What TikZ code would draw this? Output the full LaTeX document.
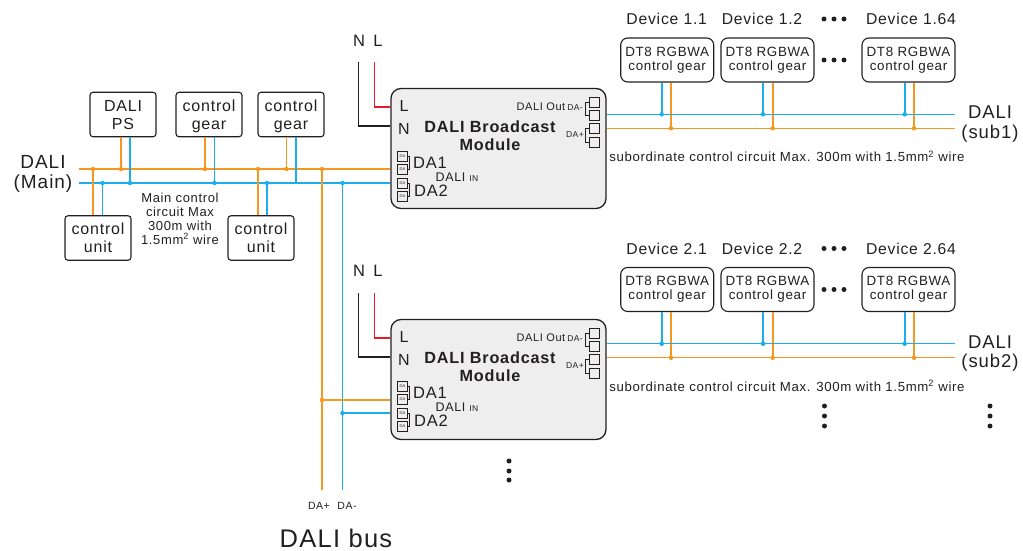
\documentclass[tikz,border=0pt]{standalone}
\usepackage{fontspec}
\setmainfont[LetterSpace=5]{Liberation Sans}
\usepackage{xcolor}
\definecolor{wireBlue}{RGB}{26, 174, 236}
\definecolor{wireOrange}{RGB}{243, 152, 33}
\definecolor{wireRed}{RGB}{232, 25, 44}
\definecolor{inkColor}{RGB}{35, 31, 32}
\definecolor{moduleColor}{RGB}{238, 238, 238}
\newcommand{\fsz}[1]{\fontsize{#1}{#1}\selectfont}

\begin{document}
\begin{tikzpicture}[x=1pt, y=-1pt, every node/.style={text=inkColor},
    box/.style={rectangle, draw=inkColor, line width=1.1pt, rounded corners=3pt, fill=white, inner sep=0pt},
    mainbox/.style={box, minimum width=66pt, minimum height=44.5pt, align=center, font=\fsz{16}, text depth=0pt},
    gearbox/.style={box, rounded corners=7pt, minimum width=93pt, minimum height=44pt},
    modulebox/.style={rectangle, draw=inkColor, line width=1.3pt, rounded corners=10pt, fill=moduleColor, minimum width=215pt, minimum height=120pt, inner sep=0pt},
    termbox/.style={rectangle, draw=inkColor, line width=0.7pt, minimum width=10pt, minimum height=10pt, inner sep=0pt, font=\fsz{4}, fill=moduleColor},
    bluewire/.style={wireBlue, line width=1.7pt},
    orangewire/.style={wireOrange, line width=1.7pt},
    bluedot/.style={circle, fill=wireBlue, minimum size=4.5pt, inner sep=0pt},
    orangedot/.style={circle, fill=wireOrange, minimum size=4.5pt, inner sep=0pt},
    blackdot/.style={circle, fill=inkColor, minimum size=5pt, inner sep=0pt}]
    \useasboundingbox (0,0) rectangle (1023,551);

    % Main bus
    \coordinate (mainOrange) at (79,169);
    \coordinate (mainBlue) at (79,183);
    \node[mainbox] (ps) at (123,114.5) {DALI\\[2pt]PS};
    \node[mainbox] (gearA) at (209,114.5) {control\\[2pt]gear};
    \node[mainbox] (gearB) at (291,114.5) {control\\[2pt]gear};
    \node[mainbox] (unitA) at (98,238) {control\\[2pt]unit};
    \node[mainbox] (unitB) at (261,238) {control\\[2pt]unit};

    \node[orangedot] (oUnitA) at (93,169) {};
    \node[orangedot] (oPs) at (121,169) {};
    \node[orangedot] (oGearA) at (205,169) {};
    \node[orangedot] (oUnitB) at (258,169) {};
    \node[orangedot] (oGearB) at (286.5,169) {};
    \node[orangedot] (oBus) at (322,169) {};
    \node[bluedot] (bUnitA) at (102.5,183) {};
    \node[bluedot] (bPs) at (130,183) {};
    \node[bluedot] (bGearA) at (214.5,183) {};
    \node[bluedot] (bUnitB) at (267,183) {};
    \coordinate (bGearB) at (296,183);
    \node[bluedot] (bBus) at (342.5,183) {};
    \coordinate (busOrangeEnd) at (322,490);
    \coordinate (busBlueEnd) at (342.5,490);

    \foreach \n/\dy/\my in {1/0/0, 2/229.5/231} {
        % Sub circuit
        \node[modulebox] (mod\n) at (498.5,148.5+\my) {};
        \node[font=\fsz{16.5}] (nL\n) at (359,41+\my-\n+1) {N};
        \node[font=\fsz{16.5}] (lL\n) at (378,41+\my-\n+1) {L};
        \coordinate (nTop\n) at (358.5,62+\my);
        \coordinate (lTop\n) at (374.5,62+\my);
        \draw[inkColor, line width=1.3pt] (nTop\n) |- (mod\n.west |- 0,126+\my);
        \draw[wireRed, line width=1.3pt] (lTop\n) |- (mod\n.west |- 0,107+\my);

        \node[font=\fsz{16}] (tL\n) at (404,106+\my) {L};
        \node[font=\fsz{16}] (tN\n) at (404,129+\my) {N};
        \node[font=\bfseries\fsz{16.2}, align=center] (title\n) at (490,135.5+\my) {DALI Broadcast\\[2pt]Module};
        \node[font=\fsz{16.5}] (tDaA\n) at (430,163+\my-\n+1) {DA1};
        \node[font=\fsz{16.5}] (tDaB\n) at (431,190.5+\my-\n+1) {DA2};
        \node[font=\fsz{12.5}] (tIn\n) at (457,177+\my-\n+1) {DALI {\fsz{8.5}IN}};
        \node[font=\fsz{11}] (tOut\n) at (541,107+\my) {DALI Out};
        \node[font=\fsz{8.5}] (tMinus\n) at (575,108+\my) {DA-};
        \node[font=\fsz{8.5}] (tPlus\n) at (575,135+\my) {DA+};

        % Terminals
        \foreach \k/\ty in {1/102, 2/115, 3/128, 4/142}
            \node[termbox] (out\n\k) at (594,\ty+\my) {};
        \foreach \k/\ty in {1/156, 2/169, 3/183, 4/196}
            \node[termbox] (in\n\k) at (402.5,\ty+\my-\n+1) {DA};
        \draw[inkColor, line width=0.8pt] (out\n1.west) -- ++(-3,0) |- (out\n2.west);
        \draw[inkColor, line width=0.8pt] (out\n3.west) -- ++(-3,0) |- (out\n4.west);
        \draw[inkColor, line width=0.8pt] (in\n1.east) -- ++(2,0) |- (in\n2.east);
        \draw[inkColor, line width=0.8pt] (in\n3.east) -- ++(2,0) |- (in\n4.east);

        % Devices
        \node[font=\fsz{15.7}] (devA\n) at (666.7,19+\dy) {Device \n.1};
        \node[font=\fsz{15.7}] (devB\n) at (762,19+\dy) {Device \n.2};
        \node[font=\fsz{15.7}] (devC\n) at (911,19+\dy) {Device \n.64};
        \foreach \k/\px in {a/824, b/834, c/844} {
            \node[blackdot] (topDot\n\k) at (\px,19+\dy) {};
            \node[blackdot] (midDot\n\k) at (\px,60+\dy) {};
        }
        \foreach \k/\bx/\bw/\ow in {A/667.2/661.7/671, B/767.5/763/772.7, C/908.5/904.7/914} {
            \node[gearbox, align=center, font=\fsz{13.4}] (dev\k\n Box) at (\bx,60+\dy) {DT8 RGBWA\\[1pt]control gear};
            \node[bluedot] (bDev\k\n) at (\bw,114.3+\dy) {};
            \node[orangedot] (oDev\k\n) at (\ow,128.3+\dy) {};
            \draw[bluewire] (bDev\k\n.center) -- (dev\k\n Box.south -| bDev\k\n.center);
            \draw[orangewire] (oDev\k\n.center) -- (dev\k\n Box.south -| oDev\k\n.center);
        }
        \coordinate (subBlue\n) at (955,114.3+\dy);
        \coordinate (subOrange\n) at (955,128.3+\dy);
        \draw[wireBlue, line width=1.3pt] (mod\n.east |- subBlue\n) -- (subBlue\n);
        \draw[wireOrange, line width=1.3pt] (mod\n.east |- subOrange\n) -- (subOrange\n);
        \node[font=\fsz{18.5}, align=center] (subLabel\n) at (990,124+\dy) {DALI\\[1pt](sub\n)};
        \node[font=\fsz{13.2}] (subText\n) at (787,156.5+\dy) {subordinate control circuit Max. 300m with 1.5mm\textsuperscript{2} wire};
    }

    % Main wires
    \draw[orangewire] (mainOrange) -- (mod1.west |- mainOrange);
    \draw[bluewire] (mainBlue) -- (mod1.west |- mainBlue);
    \draw[orangewire] (oPs.center) -- (ps.south -| oPs.center);
    \draw[bluewire] (bPs.center) -- (ps.south -| bPs.center);
    \draw[orangewire] (oGearA.center) -- (gearA.south -| oGearA.center);
    \draw[bluewire] (bGearA.center) -- (gearA.south -| bGearA.center);
    \draw[orangewire] (oGearB.center) -- (gearB.south -| oGearB.center);
    \draw[bluewire] (bGearB) -- (gearB.south -| bGearB);
    \draw[orangewire] (oUnitA.center) -- (unitA.north -| oUnitA.center);
    \draw[bluewire] (bUnitA.center) -- (unitA.north -| bUnitA.center);
    \draw[orangewire] (oUnitB.center) -- (unitB.north -| oUnitB.center);
    \draw[bluewire] (bUnitB.center) -- (unitB.north -| bUnitB.center);

    % DALI bus
    \node[orangedot] (oMod) at (322,400) {};
    \node[bluedot] (bMod) at (342.5,413) {};
    \draw[orangewire] (oBus.center) -- (busOrangeEnd);
    \draw[bluewire] (bBus.center) -- (busBlueEnd);
    \draw[orangewire] (oMod.center) -- (mod2.west |- oMod.center);
    \draw[bluewire] (bMod.center) -- (mod2.west |- bMod.center);

    % Labels
    \node[font=\fsz{19}, align=center] (mainLabel) at (43,173.5) {DALI\\[1pt](Main)};
    \node[font=\fsz{13}, align=center] (mainText) at (180,218.5) {Main control\\[1pt]circuit Max\\[1pt]300m with\\[1pt]1.5mm\textsuperscript{2} wire};
    \node[font=\fsz{10.5}] (daPlus) at (319,506) {DA+};
    \node[font=\fsz{10.5}] (daMinus) at (347,506) {DA-};
    \node[font=\fsz{25.5}] (busLabel) at (336,538) {DALI bus};
    \foreach \k/\py in {a/461, b/471, c/480}
        \node[blackdot] (modDot\k) at (509,\py) {};
    \foreach \k/\py in {a/406, b/416, c/426} {
        \node[blackdot] (gearDot\k) at (824.5,\py) {};
        \node[blackdot] (subDot\k) at (990,\py) {};
    }
\end{tikzpicture}
\end{document}
